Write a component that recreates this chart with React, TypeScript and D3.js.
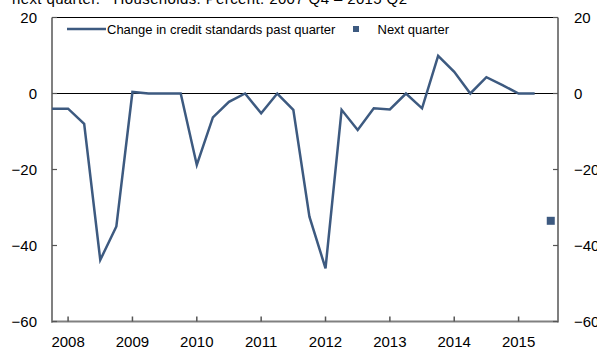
import React from "react";
import * as d3 from "d3";

const quarters: string[] = [
  "2007Q4",
  "2008Q1","2008Q2","2008Q3","2008Q4",
  "2009Q1","2009Q2","2009Q3","2009Q4",
  "2010Q1","2010Q2","2010Q3","2010Q4",
  "2011Q1","2011Q2","2011Q3","2011Q4",
  "2012Q1","2012Q2","2012Q3","2012Q4",
  "2013Q1","2013Q2","2013Q3","2013Q4",
  "2014Q1","2014Q2","2014Q3","2014Q4",
  "2015Q1","2015Q2",
];
const pastQuarter: number[] = [
  -4, -4, -8, -43.8, -35,
  0.4, 0, 0, 0,
  -18.8, -6.3, -2.2, 0,
  -5.2, 0, -4.3, -32.4,
  -46, -4.3, -9.6, -3.9,
  -4.2, 0, -3.9, 9.9,
  5.7, 0, 4.3, 2.2,
  0, 0,
];
const nextQuarterLabel = "2015Q3";
const nextQuarterValue = -33.5;
const yearTicks: number[] = [2008, 2009, 2010, 2011, 2012, 2013, 2014, 2015];
const yTicks: number[] = [20, 0, -20, -40, -60];
const seriesNames = ["Change in credit standards past quarter", "Next quarter"];
const title = "next quarter.\u00b9\u207e Households. Percent. 2007 Q4 \u2013 2015 Q2";

const W = 597, H = 348;
const L = 52, R = 558, T = 17.5, B = 321.5;
const color = "#3d5a80";
const font = "Arial, 'Liberation Sans', Helvetica, sans-serif";

function qIndex(q: string): number {
  const y = +q.slice(0, 4);
  const n = +q.slice(5);
  return (y - 2007) * 4 + (n - 4);
}

export default function App() {
  const x = d3.scaleLinear().domain([0, 31.45]).range([L, R]);
  const y = d3.scaleLinear().domain([-60, 20]).range([B, T]);
  const line = d3
    .line<number>()
    .x((_, i) => x(qIndex(quarters[i])))
    .y((d) => y(d));
  const nx = x(qIndex(nextQuarterLabel));
  const ny = y(nextQuarterValue);

  return (
    <svg
      width={W}
      height={H}
      style={{ position: "absolute", left: 0, top: 0, background: "#fff" }}
      fontFamily={font}
    >
      <text x={12} y={4} fontSize={15} fill="#000" textLength={395} lengthAdjust="spacing">{title}</text>

      {/* zero line */}
      <line x1={L} x2={R} y1={y(0)} y2={y(0)} stroke="#000" strokeWidth={1.2} />

      {/* frame */}
      <line x1={L} x2={R} y1={T} y2={T} stroke="#000" strokeWidth={1.2} />
      <line x1={L} x2={L} y1={T} y2={B + 1} stroke="#808080" strokeWidth={2} />
      <line x1={R} x2={R} y1={T} y2={B + 1} stroke="#555" strokeWidth={1.5} />
      <line x1={L - 1} x2={R} y1={B} y2={B} stroke="#808080" strokeWidth={2} />

      {/* y ticks and labels */}
      {yTicks.map((t) => (
        <g key={"y" + t}>
          <line x1={L} x2={L + 5} y1={y(t)} y2={y(t)} stroke="#555" strokeWidth={1.2} />
          <line x1={R - 5} x2={R} y1={y(t)} y2={y(t)} stroke="#555" strokeWidth={1.2} />
          <text x={37} y={y(t)} dy="0.36em" textAnchor="end" fontSize={15} fill="#000">
            {t < 0 ? "\u2212" + Math.abs(t) : String(t)}
          </text>
          <text x={574} y={y(t)} dy="0.36em" textAnchor="start" fontSize={15} fill="#000">
            {t < 0 ? "\u2212" + Math.abs(t) : String(t)}
          </text>
        </g>
      ))}

      {/* x ticks */}
      {yearTicks.map((yr) => {
        const xp = x(qIndex(yr + "Q1"));
        return (
          <g key={"x" + yr}>
            <line x1={xp} x2={xp} y1={B - 5} y2={B} stroke="#555" strokeWidth={1.5} />
            <text x={xp} y={347} textAnchor="middle" fontSize={15} fill="#000">{yr}</text>
          </g>
        );
      })}

      {/* series */}
      <path d={line(pastQuarter) || ""} fill="none" stroke={color} strokeWidth={2.5} strokeLinejoin="miter" />
      <rect x={nx - 4} y={ny - 4} width={8} height={8} fill={color} />

      {/* legend */}
      <line x1={67} x2={106} y1={29} y2={29} stroke={color} strokeWidth={2.5} />
      <text x={107} y={29} dy="0.36em" fontSize={13} fill="#000">{seriesNames[0]}</text>
      <rect x={353} y={26} width={6} height={6} fill={color} />
      <text x={377.5} y={29} dy="0.36em" fontSize={13} fill="#000">{seriesNames[1]}</text>
    </svg>
  );
}
